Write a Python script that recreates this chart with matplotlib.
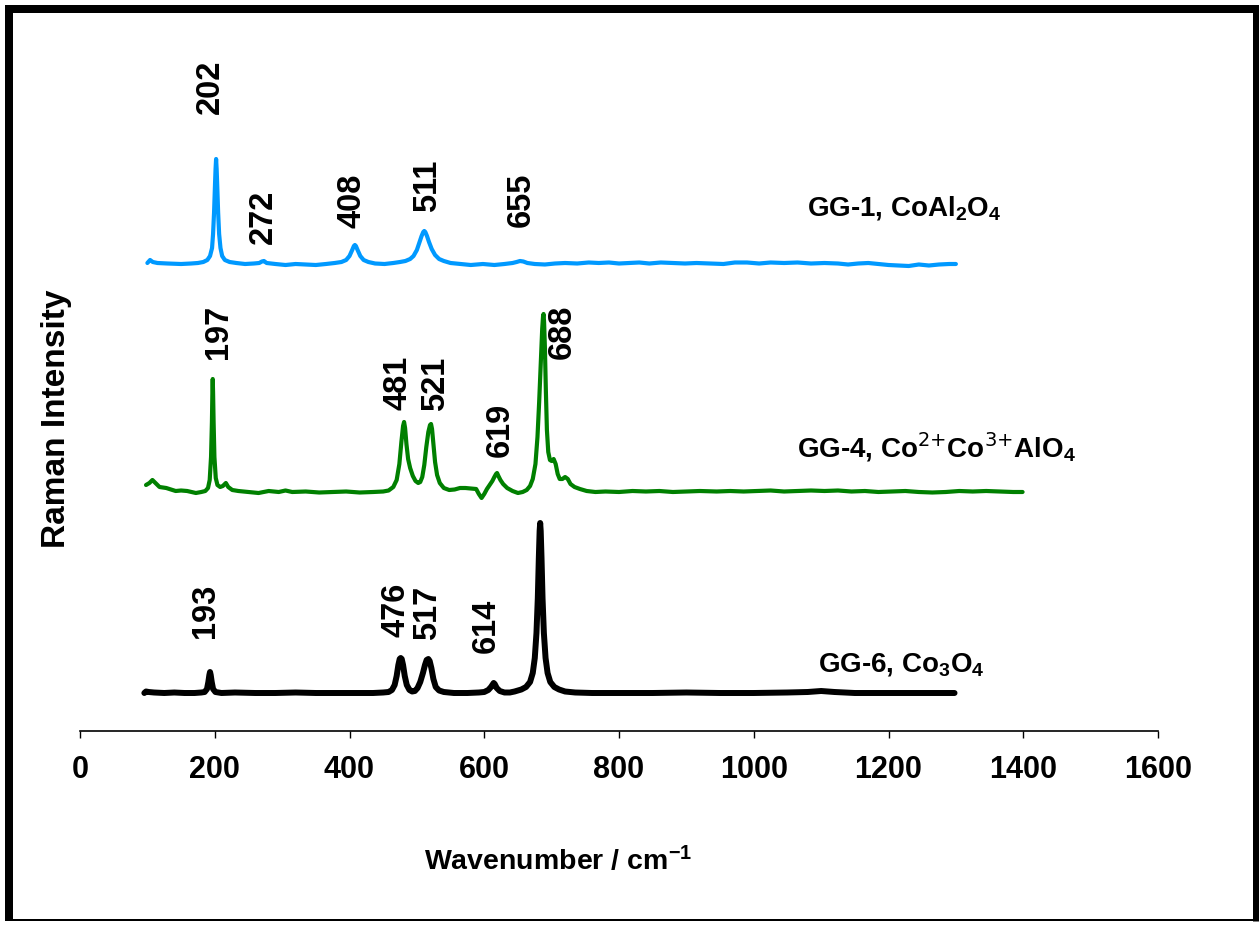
import matplotlib
matplotlib.use("Agg")
import matplotlib.pyplot as plt
from matplotlib import font_manager
from matplotlib.lines import Line2D

# ---------------- data ----------------
# Raman spectra: wavenumber (cm-1) and intensity above each trace's own baseline (a.u.)
gg1_wavenumber = [100, 104, 108, 115, 130, 150, 165, 175, 183, 189, 193, 196, 197.5, 199, 200.4, 201.2, 202,
                  202.8, 203.6, 205, 206.5, 208.5, 211, 215, 222, 232, 245, 258, 266, 270, 273, 277, 290, 305,
                  320, 335, 350, 365, 378, 388, 395, 400, 404, 406.5, 408, 409.5, 412, 416, 421, 428, 438, 452,
                  465, 475, 483, 490, 495, 500, 504, 507, 509.5, 511, 512.5, 515, 518, 522, 527, 533, 540, 550,
                  565, 580, 598, 615, 630, 642, 648, 653, 658, 664, 675, 690, 705, 720, 738, 755, 770, 785, 800,
                  815, 830, 845, 862, 880, 898, 915, 935, 955, 972, 990, 1008, 1025, 1045, 1065, 1085, 1105, 1125,
                  1140, 1155, 1170, 1185, 1200, 1215, 1230, 1245, 1260, 1275, 1290, 1300]
gg1_intensity = [1, 4, 2, 1, 0.5, 0, 0.5, 1, 2, 4, 8, 16, 30, 52, 80, 95, 105,
                 95, 80, 52, 30, 16, 8, 4, 2, 1, 0, 0.5, 1, 2.5, 3, 1, 0, -1,
                 0, -0.5, -1, 0, 1, 2, 4, 8, 14, 18, 19, 18, 14, 8, 4, 2, 0.5, 0,
                 1, 2, 3, 5, 8, 14, 22, 28, 32, 33, 32, 28, 22, 15, 9, 5, 3, 1,
                 0, -1, 0, -1, 0, 1, 2, 3, 2.5, 1, 0, -0.5, 0.5, 1, 0.5, 1.5, 1, 1.5, 0.5,
                 1, 1.5, 0.5, 1.5, 1, 0.5, 1, 0.5, 0, 1.5, 1.5, 0.5, 1.5, 1, 1.5, 0.5, 1, 0.5,
                 -0.5, 0.5, 1, 0, -1, -1.5, -2, -0.5, -1.5, -0.5, 0, 0]

gg4_wavenumber = [98, 103, 107.5, 112, 118, 128, 142, 150, 159, 172, 180, 186, 190, 192.5, 194.5, 195.8, 196.5,
                  197, 197.5, 198.3, 199.5, 201.5, 204, 208, 212, 216.5, 220, 226, 235, 250, 265, 280, 295, 305,
                  315, 335, 355, 375, 395, 415, 435, 450, 458, 465, 470, 474, 477, 479.5, 481, 482.5, 484.5, 487,
                  490, 494, 498, 502, 505, 508, 511, 514, 517, 519.5, 521, 522.5, 524.5, 527, 530, 534, 540, 548,
                  556, 564, 572, 580, 588, 592, 596, 600, 604, 608, 612, 615, 617.5, 619, 621, 624, 628, 634, 642,
                  650, 657, 663, 668, 672, 676, 679, 681.5, 684, 686, 687.3, 688, 688.8, 690, 691.5, 693, 695,
                  697.5, 700, 703, 706, 709, 712, 716, 720, 724, 728, 734, 742, 752, 765, 780, 800, 820, 840, 860,
                  880, 900, 920, 945, 965, 985, 1005, 1025, 1045, 1065, 1085, 1105, 1125, 1145, 1165, 1185, 1205,
                  1225, 1245, 1265, 1285, 1305, 1325, 1345, 1365, 1385, 1399]
gg4_intensity = [7, 9, 12, 9, 5, 4, 1, 1.5, 1, -1, 0, 1, 4, 12, 35, 70, 100,
                 113, 100, 70, 35, 14, 7, 5, 6, 9, 5, 2, 1, 0, -1, 1, 0, 1.5,
                 0, 0.5, -0.5, 0, 0.5, -0.5, 0, 0.5, 1.5, 5, 12, 28, 50, 66, 70, 64, 48, 33,
                 24, 16, 11, 9, 10, 15, 27, 45, 60, 67, 68, 63, 48, 30, 17, 9, 4, 2,
                 2.5, 4, 4, 3.5, 3, -2, -6, -2, 3, 7, 11, 15, 18, 19, 16, 12, 8, 4, 1,
                 -1, 0, 2, 6, 13, 28, 55, 90, 130, 163, 176, 178, 170, 145, 100, 62, 40,
                 32, 31, 33, 28, 18, 13, 13, 15, 13, 8, 5, 3, 1, 0, 0.5, 0, 1, 0.5, 1,
                 0, 0.5, 1, 0.5, 1, 0.5, 1, 1.5, 0.5, 1, 1.5, 1, 1.5, 0.5, 1, 0, 0.5,
                 1, 0, -0.5, 0, 1, 0.5, 1, 0.5, 0, 0]

gg6_wavenumber = [95.5, 98, 102, 110, 125, 140, 155, 170, 180, 185, 188.5, 190.5, 192, 193, 194, 195.5, 197.5,
                  201, 210, 230, 260, 290, 320, 350, 380, 410, 435, 450, 458, 463, 467, 470, 472.5, 474.5, 476,
                  477.5, 479.5, 482, 485, 489, 493, 497, 501, 505, 509, 512, 514.5, 517, 519, 521.5, 524.5, 528,
                  533, 540, 555, 575, 592, 600, 606, 610, 613, 614, 615.5, 618.5, 623, 630, 638, 645, 655, 662,
                  668, 672, 675, 677.5, 679.5, 681, 682.2, 683, 683.8, 685, 686.5, 688.5, 691, 694, 698, 704, 711,
                  720, 735, 760, 800, 850, 900, 950, 1000, 1050, 1080, 1100, 1120, 1150, 1200, 1250, 1298]
gg6_intensity = [0, 1.5, 1, 0.5, 0, 0.5, 0, 0, 0.5, 1, 4, 11, 18, 21, 18, 11, 4,
                 1, 0, 0.5, 0, 0, 0.5, 0, 0, 0, 0, 0.5, 1, 3, 8, 17, 28, 34, 35,
                 34, 28, 17, 8, 3, 1.5, 2, 5, 11, 20, 28, 33, 34, 32, 25, 14, 6,
                 2.5, 1, 0, 0, 0.5, 1, 3, 6, 9, 10, 9, 5, 2, 0.5, 0.5, 1.5, 3.5, 6,
                 11, 20, 35, 60, 95, 135, 162, 170, 162, 135, 95, 60, 35, 20, 11, 6, 3.5,
                 1.5, 0.5, 0, 0, 0, 0.5, 0, 0, 0.5, 1, 2, 1, 0, 0, 0, 0]

# Sample names and marked band positions (cm-1)
series_names = ["GG-1, CoAl$_2$O$_4$", "GG-4, Co$^{\\text{2+}}$Co$^{\\text{3+}}$AlO$_4$", "GG-6, Co$_3$O$_4$"]
gg1_bands = [202, 272, 408, 511, 655]
gg4_bands = [197, 481, 521, 619, 688]
gg6_bands = [193, 476, 517, 614]
x_ticks = [0, 200, 400, 600, 800, 1000, 1200, 1400, 1600]

# ---------------- styling / layout ----------------
W, H, DPI = 1259, 925, 100
AX_L, AX_R, AX_B, AX_T = 80, 1158, 731, 20          # axes box in pixels
PX_PER_UNIT = (AX_R - AX_L) / 1600.0

names = {f.name for f in font_manager.fontManager.ttflist}
NARROW = "Liberation Sans Narrow" if "Liberation Sans Narrow" in names else "Liberation Sans"
WIDE = "Liberation Sans"
plt.rcParams["font.family"] = [WIDE, "DejaVu Sans"]
plt.rcParams["mathtext.default"] = "regular"

colors = ["#0099FF", "#008000", "#000000"]
widths = [3.0, 3.0, 4.3]
offsets = [467, 239, 38]                  # vertical stacking of the traces
# label layout: (height of label centre, horizontal nudge in px)
gg1_label_pos = [(644, -6), (514, 0), (530, -3), (545, 3.5), (531, 0)]
gg4_label_pos = [(399, 6), (348, -6), (347, 5), (301, 3), (399, 19)]
gg6_label_pos = [(120, -5), (121, -4.5), (118, -1), (105, -7)]
name_pos = [(1079, 516), (1064, 273), (1095, 59)]

fig = plt.figure(figsize=(W / DPI, H / DPI), dpi=DPI)
ax = fig.add_axes([AX_L / W, 1 - AX_B / H, (AX_R - AX_L) / W, (AX_B - AX_T) / H])
ax.set_xlim(0, 1600)
ax.set_ylim(0, AX_B - AX_T)

spectra = [(gg1_wavenumber, gg1_intensity), (gg4_wavenumber, gg4_intensity), (gg6_wavenumber, gg6_intensity)]
for (wn, inten), c, lw, off in zip(spectra, colors, widths, offsets):
    ax.plot(wn, [v + off for v in inten], color=c, lw=lw, solid_joinstyle="round", solid_capstyle="round")

for bands, pos in [(gg1_bands, gg1_label_pos), (gg4_bands, gg4_label_pos), (gg6_bands, gg6_label_pos)]:
    for b, (yh, nudge) in zip(bands, pos):
        ax.text(b + nudge / PX_PER_UNIT, yh, str(b), rotation=90, ha="center", va="center",
                fontsize=23.5, fontweight="bold", family=WIDE)

for name, (xp, yp) in zip(series_names, name_pos):
    ax.text(xp, yp, name, ha="left", va="baseline", fontsize=20, fontweight="bold", family=NARROW)

for s in ["left", "top", "right"]:
    ax.spines[s].set_visible(False)
ax.spines["bottom"].set_linewidth(1.2)
ax.set_yticks([])
ax.set_xticks(x_ticks)
ax.set_xticklabels([str(t) for t in x_ticks], fontsize=22, fontweight="bold", family=NARROW)
ax.tick_params(axis="x", direction="out", length=5, width=1, pad=12)

ax.set_xlabel("Wavenumber / cm$^{-1}$", fontsize=20.5, fontweight="bold", family=NARROW)
ax.xaxis.label.set_va("baseline")
ax.xaxis.set_label_coords((558 - AX_L) / (AX_R - AX_L), (AX_B - 870) / (AX_B - AX_T))
ax.set_ylabel("Raman Intensity", fontsize=24, fontweight="bold", family=WIDE)
ax.yaxis.label.set_va("center")
ax.yaxis.set_label_coords((56 - AX_L) / (AX_R - AX_L), (AX_B - 419) / (AX_B - AX_T))

# frame around the whole figure
def frame_line(x0, y0, x1, y1, lw_px):
    fig.add_artist(Line2D([x0 / W, x1 / W], [1 - y0 / H, 1 - y1 / H], transform=fig.transFigure,
                          color="black", lw=lw_px * 72 / DPI, solid_capstyle="butt"))

frame_line(8.5, 5, 8.5, 921, 8)
frame_line(5, 9, 1259, 9, 8)
frame_line(1256, 5, 1256, 921, 7)
frame_line(5, 920, 1259, 920, 2)

fig.savefig("out.png", dpi=DPI)
